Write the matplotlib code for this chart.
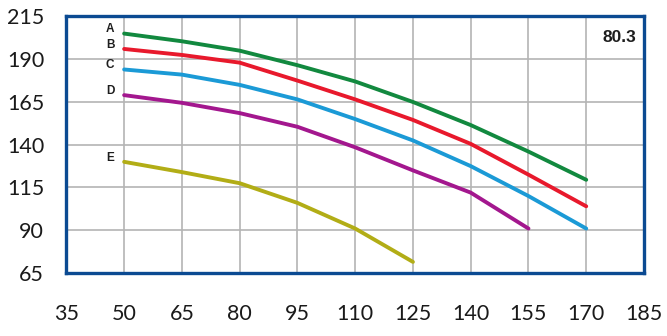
import matplotlib.pyplot as plt

# flow values (x) and head curves for each impeller size
x_full = [50, 65, 80, 95, 110, 125, 140, 155, 170]
head_a = [205, 200.5, 195, 186.5, 177, 165, 151.5, 136, 119.5]
head_b = [196, 192.5, 188, 177.5, 166.5, 154.5, 140.5, 122.5, 104]
head_c = [184, 181, 175, 166.5, 155, 142.5, 127.5, 110, 91]

x_d = [50, 65, 80, 95, 110, 125, 140, 155]
head_d = [169, 164.5, 158.5, 150.5, 138.5, 125, 112, 91]

x_e = [50, 65, 80, 95, 110, 125]
head_e = [130, 124, 117.5, 106, 91, 71.5]

curve_names = ['A', 'B', 'C', 'D', 'E']
curve_colors = ['#12893f', '#e8192c', '#1b9ad6', '#a3178e', '#b2ad16']

x_ticks = list(range(35, 186, 15))
y_ticks = list(range(65, 216, 25))
model = '80.3'

fig = plt.figure(figsize=(6.67, 3.36), dpi=100)
ax = fig.add_axes([0.0995, 0.1875, 0.866, 0.7635])

series = [(x_full, head_a), (x_full, head_b), (x_full, head_c),
          (x_d, head_d), (x_e, head_e)]
for (xs, ys), name, col in zip(series, curve_names, curve_colors):
    ax.plot(xs, ys, color=col, lw=2.8, solid_capstyle='round',
            solid_joinstyle='round', zorder=3)
    ax.annotate(name, (xs[0], ys[0]), xytext=(-7, 3), textcoords='offset points',
                ha='right', va='center', fontsize=8.5, fontweight='bold',
                family='Liberation Sans', color='#1e1e1e')

ax.text(183.0, 202.5, model, ha='right', va='center', fontsize=12.5,
        fontweight='bold', family='Liberation Sans', color='#1e1e1e')

ax.set_xlim(35, 185)
ax.set_ylim(65, 215)
ax.set_xticks(x_ticks)
ax.set_yticks(y_ticks)
ax.grid(True, color='#b4b4b4', lw=1.2, zorder=1)
ax.set_axisbelow(True)

ax.tick_params(length=0, labelsize=15.5, colors='#1a1a1a')
ax.tick_params(axis='y', pad=16)
ax.tick_params(axis='x', pad=22)
for lab in ax.get_xticklabels() + ax.get_yticklabels():
    lab.set_family('Lato')

for s in ax.spines.values():
    s.set_color('#0b4a92')
    s.set_linewidth(2.4)
    s.set_zorder(4)

fig.savefig('out.png', dpi=100)
